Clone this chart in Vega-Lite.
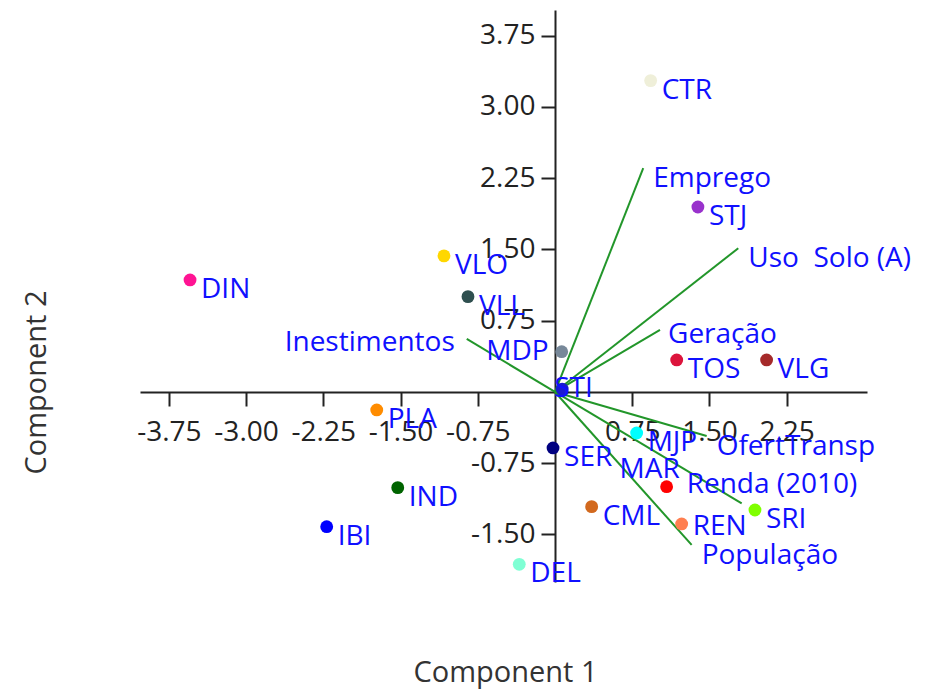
{
  "$schema": "https://vega.github.io/schema/vega-lite/v6.json",
  "width": 727,
  "height": 572,
  "autosize": {"type": "none"},
  "padding": {"left": 140, "top": 10, "right": 59, "bottom": 108},
  "background": "white",
  "config": {
    "view": {"stroke": null},
    "locale": {"number": {"decimal": ".", "thousands": ",", "grouping": [3], "currency": ["$", ""], "minus": "-"}},
    "axis": {"grid": false, "labelFont": "Open Sans", "titleFont": "Open Sans"},
    "text": {"font": "Open Sans", "fontSize": 28, "fill": "#1010ff", "baseline": "middle"}
  },
  "datasets": {
    "samples": [
      {"name": "CTR", "x": 0.929, "y": 3.277},
      {"name": "STJ", "x": 1.388, "y": 1.947},
      {"name": "DIN", "x": -3.544, "y": 1.179},
      {"name": "VLO", "x": -1.078, "y": 1.432},
      {"name": "VLL", "x": -0.845, "y": 1.003},
      {"name": "MDP", "x": 0.065, "y": 0.424},
      {"name": "TOS", "x": 1.182, "y": 0.337},
      {"name": "VLG", "x": 2.055, "y": 0.337},
      {"name": "STI", "x": 0.07, "y": 0.03},
      {"name": "PLA", "x": -1.731, "y": -0.189},
      {"name": "SER", "x": -0.019, "y": -0.589},
      {"name": "MJP", "x": 0.793, "y": -0.432},
      {"name": "MAR", "x": 1.084, "y": -0.997},
      {"name": "CML", "x": 0.356, "y": -1.207},
      {"name": "REN", "x": 1.23, "y": -1.389},
      {"name": "SRI", "x": 1.942, "y": -1.242},
      {"name": "IND", "x": -1.527, "y": -1.007},
      {"name": "IBI", "x": -2.217, "y": -1.418},
      {"name": "DEL", "x": -0.347, "y": -1.814}
    ],
    "loadings": [
      {"var": "Emprego", "x": 0.857, "y": 2.355},
      {"var": "Uso\u00a0 Solo (A)", "x": 1.78, "y": 1.513},
      {"var": "Geração", "x": 1.02, "y": 0.653},
      {"var": "Inestimentos", "x": -0.857, "y": 0.558},
      {"var": "OfertTransp", "x": 1.473, "y": -0.463},
      {"var": "Renda (2010)", "x": 1.813, "y": -1.172},
      {"var": "População", "x": 1.327, "y": -1.61}
    ]
  },
  "layer": [
    {
      "data": {"name": "loadings"},
      "mark": {"type": "rule", "color": "#22962a", "strokeWidth": 2},
      "encoding": {
        "x": {"field": "x", "type": "quantitative", "scale": {"domain": [-4.03, 3.03], "nice": false, "zero": false},
          "axis": {"orient": "bottom", "offset": -190, "values": [-3.75, -3, -2.25, -1.5, -0.75, 0.75, 1.5, 2.25], "format": ".2f",
            "domainColor": "#222", "domainWidth": 2, "tickColor": "#222", "tickWidth": 2, "tickSize": 14,
            "labelFontSize": 28, "labelColor": "#222", "labelPadding": 12, "labelOverlap": false, "labelFlush": false,
            "title": "Component 1", "titleFontSize": 29, "titleFontWeight": "normal", "titleColor": "#333",
            "titleX": 365, "titleY": 280, "titleBaseline": "middle", "titleAlign": "center"}},
        "y": {"field": "y", "type": "quantitative", "scale": {"domain": [-2.0, 4.02], "nice": false, "zero": false},
          "axis": {"orient": "left", "offset": -415, "values": [-1.5, -0.75, 0.75, 1.5, 2.25, 3, 3.75], "format": ".2f",
            "domainColor": "#222", "domainWidth": 2, "tickColor": "#222", "tickWidth": 2, "tickSize": 14,
            "labelFontSize": 28, "labelColor": "#222", "labelPadding": 6, "labelOverlap": false, "labelFlush": false,
            "title": "Component 2", "titleFontSize": 29, "titleFontWeight": "normal", "titleColor": "#333",
            "titleX": -519, "titleY": 372, "titleBaseline": "middle", "titleAlign": "center", "titleAngle": 270}},
        "x2": {"datum": 0},
        "y2": {"datum": 0}
      }
    },
    {
      "data": {"name": "loadings"},
      "transform": [{"filter": "indexof(['Inestimentos','Renda (2010)','Geração'], datum.var) < 0"}],
      "mark": {"type": "text", "align": "left", "dx": 10, "dy": 11},
      "encoding": {
        "x": {"field": "x", "type": "quantitative"},
        "y": {"field": "y", "type": "quantitative"},
        "text": {"field": "var"}
      }
    },
    {
      "data": {"name": "loadings"},
      "transform": [{"filter": "datum.var === 'Geração'"}],
      "mark": {"type": "text", "align": "left", "dx": 8, "dy": 5},
      "encoding": {
        "x": {"field": "x", "type": "quantitative"},
        "y": {"field": "y", "type": "quantitative"},
        "text": {"field": "var"}
      }
    },
    {
      "data": {"name": "loadings"},
      "transform": [{"filter": "datum.var === 'Inestimentos'"}],
      "mark": {"type": "text", "align": "right", "dx": -12, "dy": 4},
      "encoding": {
        "x": {"field": "x", "type": "quantitative"},
        "y": {"field": "y", "type": "quantitative"},
        "text": {"field": "var"}
      }
    },
    {
      "data": {"name": "loadings"},
      "transform": [{"filter": "datum.var === 'Renda (2010)'"}],
      "mark": {"type": "text", "align": "left", "dx": -55, "dy": -18},
      "encoding": {
        "x": {"field": "x", "type": "quantitative"},
        "y": {"field": "y", "type": "quantitative"},
        "text": {"field": "var"}
      }
    },
    {
      "data": {"name": "samples"},
      "mark": {"type": "circle", "size": 165, "opacity": 1},
      "encoding": {
        "x": {"field": "x", "type": "quantitative"},
        "y": {"field": "y", "type": "quantitative"},
        "color": {"field": "name", "type": "nominal", "legend": null,
          "scale": {
            "domain": ["CTR", "STJ", "DIN", "VLO", "VLL", "MDP", "TOS", "VLG", "STI", "PLA", "SER", "MJP", "MAR", "CML", "REN", "SRI", "IND", "IBI", "DEL"],
            "range": ["#efefd9", "#9932cc", "#ff1493", "#ffd700", "#2f4f4f", "#778899", "#dc143c", "#a52a2a", "#1a1ad0", "#ff8c00", "#000080", "#00ffff", "#ff0000", "#d2691e", "#ff7f50", "#7fff00", "#006400", "#0000ff", "#7fffd4"]
          }}
      }
    },
    {
      "data": {"name": "samples"},
      "transform": [{"filter": "indexof(['MDP','MAR','STI','REN'], datum.name) < 0"}],
      "mark": {"type": "text", "align": "left", "dx": 11, "dy": 10},
      "encoding": {
        "x": {"field": "x", "type": "quantitative"},
        "y": {"field": "y", "type": "quantitative"},
        "text": {"field": "name"}
      }
    },
    {
      "data": {"name": "samples"},
      "transform": [{"filter": "datum.name === 'MDP'"}],
      "mark": {"type": "text", "align": "right", "dx": -13, "dy": 0},
      "encoding": {
        "x": {"field": "x", "type": "quantitative"},
        "y": {"field": "y", "type": "quantitative"},
        "text": {"field": "name"}
      }
    },
    {
      "data": {"name": "samples"},
      "transform": [{"filter": "datum.name === 'MAR'"}],
      "mark": {"type": "text", "align": "center", "dx": -17, "dy": -17},
      "encoding": {
        "x": {"field": "x", "type": "quantitative"},
        "y": {"field": "y", "type": "quantitative"},
        "text": {"field": "name"}
      }
    },
    {
      "data": {"name": "samples"},
      "transform": [{"filter": "datum.name === 'STI'"}],
      "mark": {"type": "text", "align": "left", "dx": -8, "dy": 0},
      "encoding": {
        "x": {"field": "x", "type": "quantitative"},
        "y": {"field": "y", "type": "quantitative"},
        "text": {"field": "name"}
      }
    },
    {
      "data": {"name": "samples"},
      "transform": [{"filter": "datum.name === 'REN'"}],
      "mark": {"type": "text", "align": "left", "dx": 11, "dy": 3},
      "encoding": {
        "x": {"field": "x", "type": "quantitative"},
        "y": {"field": "y", "type": "quantitative"},
        "text": {"field": "name"}
      }
    }
  ]
}
